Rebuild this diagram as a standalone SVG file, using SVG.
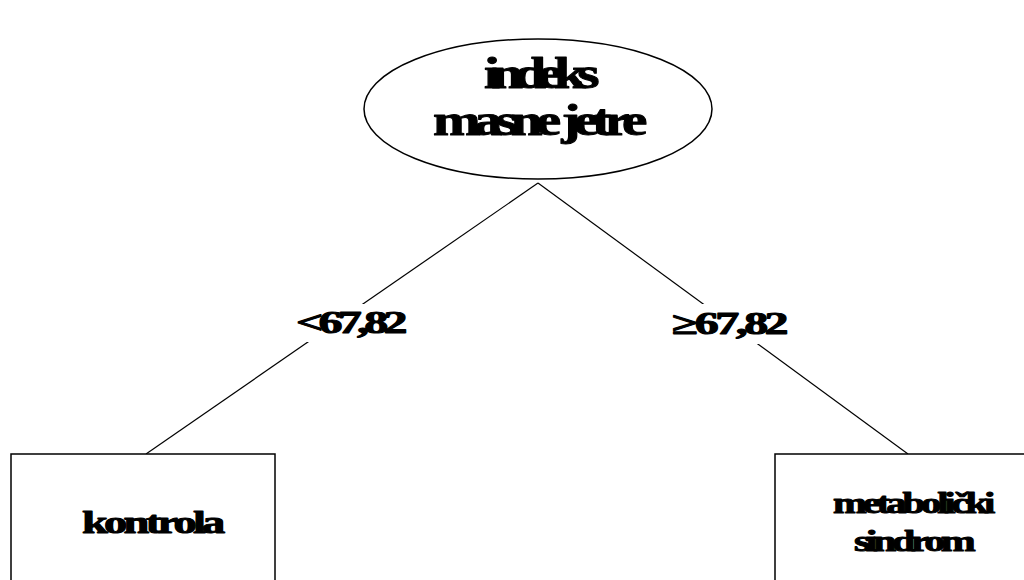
<svg xmlns="http://www.w3.org/2000/svg" width="1024" height="580" viewBox="0 0 1024 580">
<style>
.shape{fill:#fff;stroke:#000;stroke-width:1.5}
.lbl{font-family:"Liberation Serif","Times New Roman",serif;font-weight:bold;fill:#000;stroke:#000;stroke-width:1;stroke-linejoin:round}
.conn{stroke:#000;stroke-width:1.2;fill:none}
</style>
<rect width="1024" height="580" fill="#fff"/>
<g id="connectors">
<line class="conn" x1="538" y1="183" x2="146" y2="454"/>
<line class="conn" x1="538" y1="183" x2="908" y2="454"/>
<rect x="292" y="304" width="120" height="38" fill="#fff"/>
<rect x="668" y="304" width="124" height="40" fill="#fff"/>
<text class="lbl" transform="translate(296,333) scale(1.55,1)" font-size="31" letter-spacing="-3.1">&lt;67,82</text>
<text class="lbl" transform="translate(672,334) scale(1.55,1)" font-size="31" letter-spacing="-2.3">≥67,82</text>
</g>
<g id="root">
<ellipse class="shape" cx="538" cy="109" rx="174" ry="70"/>
<text class="lbl" transform="translate(484,88) scale(1.3,1)" font-size="44" letter-spacing="-6.7">indeks</text>
<text class="lbl" transform="translate(433,135) scale(1.3,1)" font-size="44" letter-spacing="-5.3">masne jetre</text>
</g>
<g id="kontrola">
<rect class="shape" x="11" y="454" width="264" height="140"/>
<text class="lbl" transform="translate(82,533) scale(1.5,1)" font-size="31" letter-spacing="-2.5">kontrola</text>
</g>
<g id="metabolicki">
<rect class="shape" x="775" y="454" width="270" height="140"/>
<text class="lbl" transform="translate(833,513) scale(1.4,1)" font-size="29" letter-spacing="-2.9">metabolički</text>
<text class="lbl" transform="translate(854,551) scale(1.4,1)" font-size="30" letter-spacing="-3.2">sindrom</text>
</g>
</svg>
